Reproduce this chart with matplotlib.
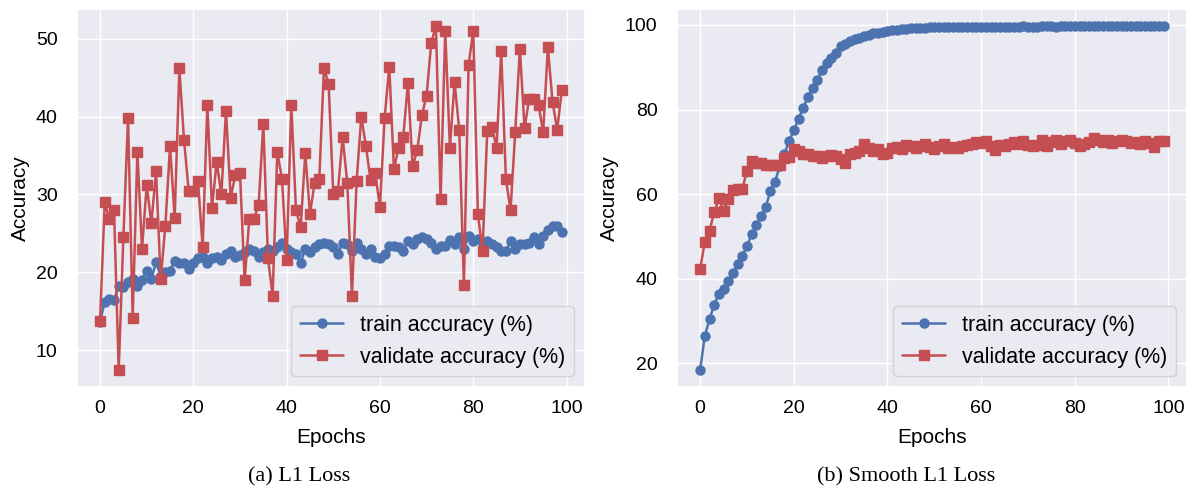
import numpy as np
import matplotlib
matplotlib.use("Agg")
import matplotlib.pyplot as plt
import seaborn as sns

# epochs 0..99
epochs = list(range(100))

# (a) L1 loss
l1_train = [13.7, 16.2, 16.6, 16.4, 18.3, 18.1, 18.8, 19.2, 18.3, 19.0,
            20.2, 19.2, 21.3, 19.6, 20.0, 20.2, 21.5, 21.2, 21.2, 20.5,
            21.2, 21.8, 22.0, 21.2, 21.8, 22.0, 21.6, 22.4, 22.8, 22.0,
            22.2, 22.6, 23.0, 22.8, 22.0, 22.6, 23.0, 22.8, 23.2, 23.8,
            23.0, 22.6, 22.4, 21.2, 23.0, 22.6, 23.2, 23.6, 23.8, 23.6,
            23.2, 22.4, 23.8, 23.6, 22.8, 23.8, 23.0, 22.4, 23.0, 22.0,
            21.8, 22.4, 23.4, 23.4, 23.2, 22.8, 24.0, 23.6, 24.3, 24.5,
            24.3, 23.8, 23.0, 23.4, 23.4, 24.2, 23.6, 24.5, 23.0, 24.7,
            24.0, 24.3, 23.2, 24.0, 23.6, 23.2, 22.8, 22.8, 24.0, 23.0,
            23.6, 23.6, 23.8, 24.5, 23.6, 24.7, 25.5, 25.9, 26.0, 25.2]
l1_val = [13.8, 29.0, 26.8, 28.0, 7.5, 24.5, 39.8, 14.2, 35.5, 23.0,
          31.2, 26.3, 33.0, 19.1, 26.0, 36.2, 27.0, 46.2, 37.0, 30.5,
          30.5, 31.7, 23.2, 41.5, 28.3, 34.2, 30.0, 40.7, 29.6, 32.5,
          32.7, 19.0, 26.9, 26.9, 28.7, 39.1, 21.8, 17.0, 35.5, 32.0,
          21.6, 41.5, 28.0, 25.8, 35.3, 27.5, 31.5, 32.0, 46.2, 44.2,
          30.0, 30.5, 37.4, 31.5, 17.0, 31.7, 40.0, 36.2, 31.8, 32.7,
          28.4, 39.8, 46.4, 33.3, 36.0, 37.4, 44.3, 33.6, 35.7, 40.2,
          42.7, 49.5, 51.6, 29.4, 51.0, 36.0, 44.4, 38.3, 18.4, 46.6,
          51.0, 27.5, 22.8, 38.1, 38.7, 36.0, 48.4, 32.0, 28.0, 38.0,
          48.7, 38.5, 42.3, 42.3, 41.5, 38.0, 48.9, 41.9, 38.3, 43.4]

# (b) Smooth L1 loss
sl1_train = [18.5, 26.6, 30.4, 33.9, 36.5, 37.6, 39.6, 41.4, 43.5, 45.5,
             47.7, 50.6, 52.7, 54.8, 56.9, 60.8, 62.9, 66.7, 69.6, 72.6,
             75.1, 77.8, 80.4, 83.0, 85.1, 86.9, 89.4, 91.0, 92.2, 93.3,
             94.9, 95.5, 96.1, 96.6, 97.0, 97.4, 97.7, 98.0, 98.2, 98.4,
             98.6, 98.8, 98.9, 99.0, 99.1, 99.2, 99.2, 99.3, 99.3, 99.4,
             99.4, 99.4, 99.5, 99.5, 99.5, 99.5, 99.5, 99.5, 99.6, 99.5,
             99.5, 99.6, 99.6, 99.6, 99.5, 99.6, 99.6, 99.6, 99.6, 99.7,
             99.6, 99.6, 99.6, 99.7, 99.7, 99.7, 99.6, 99.7, 99.7, 99.7,
             99.7, 99.7, 99.7, 99.7, 99.7, 99.7, 99.7, 99.7, 99.7, 99.7,
             99.7, 99.7, 99.7, 99.7, 99.7, 99.7, 99.7, 99.7, 99.7, 99.7]
sl1_val = [42.3, 48.8, 51.4, 55.7, 59.0, 56.1, 58.8, 61.0, 61.3, 61.2,
           65.5, 67.8, 67.4, 67.4, 67.0, 66.9, 66.9, 67.0, 68.6, 68.9,
           70.6, 70.2, 69.6, 69.4, 69.0, 69.0, 68.6, 69.0, 69.2, 69.0,
           68.2, 67.3, 69.6, 69.8, 70.3, 71.9, 70.8, 70.2, 70.6, 69.5,
           69.8, 71.0, 71.2, 70.6, 71.7, 71.3, 70.8, 71.4, 71.8, 71.2,
           70.6, 71.5, 71.9, 70.9, 71.2, 70.9, 71.5, 71.7, 71.8, 72.4,
           72.1, 72.6, 71.5, 70.5, 71.6, 71.4, 71.8, 72.3, 71.9, 72.6,
           71.7, 71.4, 71.6, 72.7, 71.5, 72.4, 72.8, 71.8, 72.6, 72.9,
           72.1, 71.4, 71.8, 72.3, 73.3, 72.9, 72.4, 72.9, 72.1, 72.5,
           72.8, 72.6, 72.2, 72.3, 71.8, 72.5, 72.1, 71.2, 72.6, 72.6]

sns.set_theme(style="darkgrid", color_codes=True)
plt.rcParams['font.family'] = ['Liberation Sans', 'DejaVu Sans']
plt.rcParams['text.color'] = 'black'
plt.rcParams['axes.labelcolor'] = 'black'
plt.rcParams['xtick.color'] = 'black'
plt.rcParams['ytick.color'] = 'black'

fig = plt.figure(figsize=(11.95, 4.92), dpi=100)
ax1 = fig.add_axes([0.0644, 0.2134, 0.4251, 0.7683])
ax2 = fig.add_axes([0.5665, 0.2134, 0.4268, 0.7683])

for ax, tr, va, cap, cx in [(ax1, l1_train, l1_val, "(a) L1 Loss", 0.250),
                            (ax2, sl1_train, sl1_val, "(b) Smooth L1 Loss", 0.758)]:
    ax.plot(epochs, tr, "b-o", markersize=6.5, linewidth=1.8, label="train accuracy (%)")
    ax.plot(epochs, va, "r-s", markersize=6.5, linewidth=1.8, label="validate accuracy (%)")
    ax.set_xlabel("Epochs", fontsize=15, labelpad=8)
    ax.set_ylabel("Accuracy", fontsize=15, labelpad=4)
    ax.tick_params(labelsize=14)
    ax.tick_params(axis="y", pad=8)
    ax.set_xticks([0, 20, 40, 60, 80, 100])
    ax.legend(loc="lower right", fontsize=15.5)
    fig.text(cx, 0.03, cap, ha="center", va="center",
             fontsize=16, family=["Liberation Serif", "DejaVu Serif"])

ax1.set_yticks([10, 20, 30, 40, 50])
ax2.set_yticks([20, 40, 60, 80, 100])

fig.savefig("out.png", dpi=100)
